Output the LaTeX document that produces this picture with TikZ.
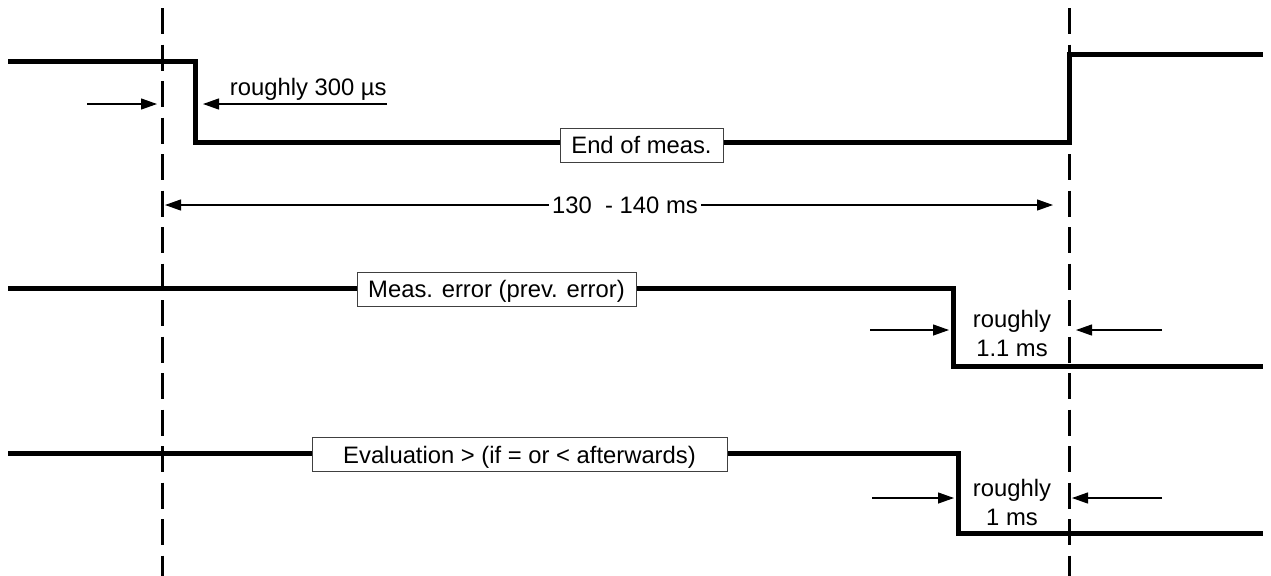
\documentclass[tikz,border=0pt]{standalone}
\usepackage{fontspec}
\setmainfont{Liberation Sans}
\usetikzlibrary{arrows.meta}
\begin{document}
\begin{tikzpicture}[x=0.5pt,y=-0.5pt,
  sig/.style={line width=2.5pt, line join=miter, line cap=butt},
  guide/.style={line width=1.5pt, dash pattern=on 13pt off 5.25pt},
  thinarrow/.style={line width=0.6pt, -{Triangle[length=8pt,width=5.5pt]}},
  lbl/.style={font=\fontsize{11.9}{14.5}\selectfont, inner sep=0pt},
  sigbox/.style={draw=black!75, line width=0.5pt, fill=white,
    font=\fontsize{11.9}{14.5}\selectfont, inner sep=0pt,
    minimum height=17pt, text height=8.6pt, text depth=0pt}]
\useasboundingbox (0,0) rectangle (1271,575);

% dashed reference lines
\coordinate (g1t) at (162,8);  \coordinate (g1b) at (162,580);
\coordinate (g2t) at (1069,8); \coordinate (g2b) at (1069,580);
\draw[guide] (g1t) -- (g1b);
\draw[guide] (g2t) -- (g2b);

% signal 1
\coordinate (s1a) at (8,61);
\coordinate (s1b) at (195,61);
\coordinate (s1c) at (195,142);
\coordinate (s1d) at (1069,142);
\coordinate (s1e) at (1069,54);
\coordinate (s1f) at (1263,54);
\draw[sig] (s1a) -- (s1b) -- (s1c) -- (s1d) -- (s1e) -- (s1f);
\node[sigbox, minimum width=81.5pt] (endmeas) at (641.5,145) {End of meas.};

% signal 2
\coordinate (s2a) at (8,288);
\coordinate (s2b) at (953,288);
\coordinate (s2c) at (953,366);
\coordinate (s2d) at (1263,366);
\draw[sig] (s2a) -- (s2b) -- (s2c) -- (s2d);
\node[sigbox, minimum width=139.5pt] (measerr) at (496.5,289) {Meas. error (prev. error)};

% signal 3
\coordinate (s3a) at (8,453);
\coordinate (s3b) at (958,453);
\coordinate (s3c) at (958,533);
\coordinate (s3d) at (1263,533);
\draw[sig] (s3a) -- (s3b) -- (s3c) -- (s3d);
\node[sigbox, minimum width=207.5pt] (evalbox) at (519.5,454.5) {Evaluation > (if = or < afterwards)};

% roughly 300 us
\coordinate (a1s) at (87,104);  \coordinate (a1e) at (157,104);
\coordinate (a2s) at (387,104); \coordinate (a2e) at (203,104);
\draw[thinarrow] (a1s) -- (a1e);
\draw[thinarrow] (a2s) -- (a2e);
\node[lbl, anchor=base east] (t300) at (387,95) {roughly 300 µs};

% 130 - 140 ms
\node[lbl, inner xsep=1.5pt, text height=8.6pt, text depth=0pt] (dim) at (625,205) {130\ \ - 140 ms};
\coordinate (d1) at (165,205); \coordinate (d2) at (1053,205);
\draw[thinarrow] (dim.west) -- (d1);
\draw[thinarrow] (dim.east) -- (d2);

% roughly 1.1 ms
\coordinate (b1s) at (870,330);  \coordinate (b1e) at (949,330);
\coordinate (b2s) at (1162,330); \coordinate (b2e) at (1076,330);
\draw[thinarrow] (b1s) -- (b1e);
\draw[thinarrow] (b2s) -- (b2e);
\node[lbl, align=center] (t11) at (1012,333) {roughly\\1.1 ms};

% roughly 1 ms
\coordinate (c1s) at (872,498);  \coordinate (c1e) at (954,498);
\coordinate (c2s) at (1162,498); \coordinate (c2e) at (1072,498);
\draw[thinarrow] (c1s) -- (c1e);
\draw[thinarrow] (c2s) -- (c2e);
\node[lbl, align=center] (t1) at (1012,502) {roughly\\1 ms};
\end{tikzpicture}
\end{document}
